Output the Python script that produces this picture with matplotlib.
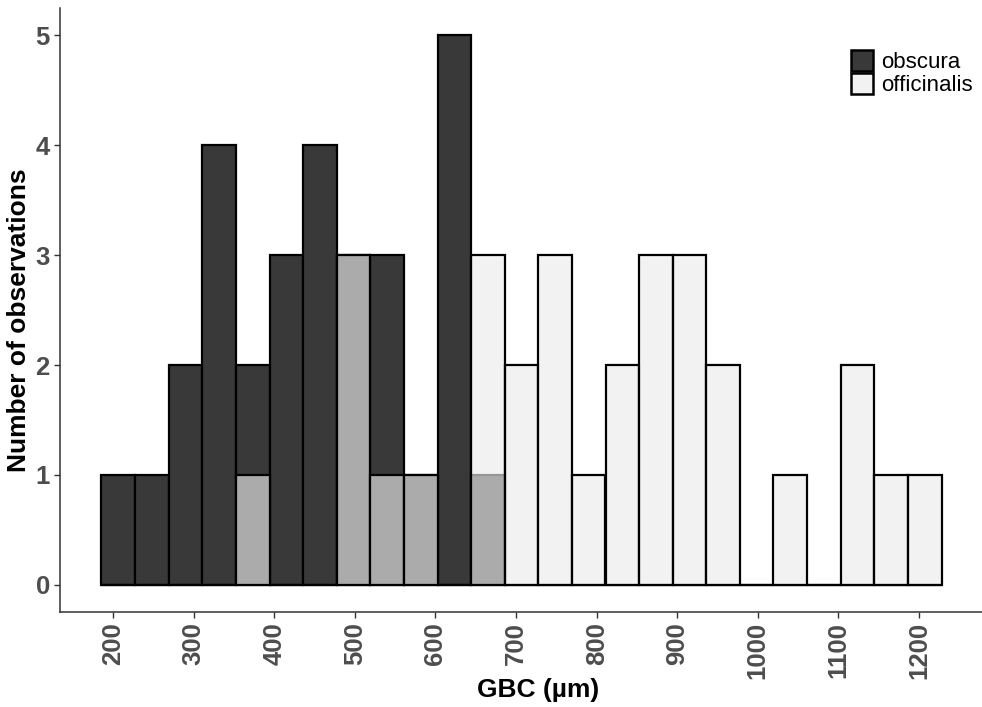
import matplotlib
matplotlib.use('Agg')
import matplotlib.pyplot as plt
from matplotlib.patches import Patch

plt.rcParams['font.family'] = ['Liberation Sans', 'DejaVu Sans']

# histogram bins (GBC in µm), 25 bins
bin_start = 185.5
bin_width = 41.7
n_bins = 25

obscura = [1, 1, 2, 4, 2, 3, 4, 3, 3, 1, 5, 1, 0, 0, 0, 0, 0, 0, 0, 0, 0, 0, 0, 0, 0]
officinalis = [0, 0, 0, 0, 1, 0, 0, 3, 1, 1, 0, 3, 2, 3, 1, 2, 3, 3, 2, 0, 1, 0, 2, 1, 1]

x_ticks = [200, 300, 400, 500, 600, 700, 800, 900, 1000, 1100, 1200]
y_ticks = [0, 1, 2, 3, 4, 5]

dark = '#393939'
light = (0.925, 0.925, 0.925, 0.64)

lefts = [bin_start + i * bin_width for i in range(n_bins)]

fig = plt.figure(figsize=(9.82, 7.07), dpi=100)
ax = fig.add_axes([59.5 / 982, 94.7 / 707, 924 / 982, 604.3 / 707])

ax.bar(lefts, obscura, width=bin_width, align='edge', color=dark,
       edgecolor='black', linewidth=1.6, zorder=2)
ax.bar(lefts, officinalis, width=bin_width, align='edge', color=light,
       edgecolor='black', linewidth=1.6, zorder=3)

span = n_bins * bin_width
ax.set_xlim(bin_start - 0.05 * span, bin_start + 1.05 * span)
ax.set_ylim(-0.25, 5.25)

ax.set_xticks(x_ticks)
ax.set_xticklabels([str(v) for v in x_ticks], rotation=90)
ax.set_yticks(y_ticks)

for s in ['top', 'right']:
    ax.spines[s].set_visible(False)
for s in ['left', 'bottom']:
    ax.spines[s].set_color('#333333')
    ax.spines[s].set_linewidth(1.1)

ax.tick_params(axis='both', colors='#333333', length=4, width=1.0,
               labelsize=18.5, labelcolor='#4d4d4d', pad=3)
for lab in ax.get_xticklabels() + ax.get_yticklabels():
    lab.set_fontweight('bold')

ax.set_xlabel('GBC (µm)', fontsize=19, fontweight='bold', color='black')
ax.set_ylabel('Number of observations', fontsize=19, fontweight='bold', color='black')
ax.xaxis.set_label_coords(0.518, -0.108)
ax.yaxis.set_label_coords(-0.031, 0.4837)

handles = [Patch(facecolor=dark, edgecolor='black', linewidth=1.8, label='obscura'),
           Patch(facecolor=light, edgecolor='black', linewidth=1.8, label='officinalis')]
ax.legend(handles=handles, loc='upper left', bbox_to_anchor=(851 / 982, 1 - 50 / 707),
          bbox_transform=fig.transFigure, frameon=False, fontsize=16,
          handlelength=1.0, handleheight=1.05, labelspacing=0.02,
          handletextpad=0.35, borderpad=0, borderaxespad=0)

plt.savefig('out.png', dpi=100)
